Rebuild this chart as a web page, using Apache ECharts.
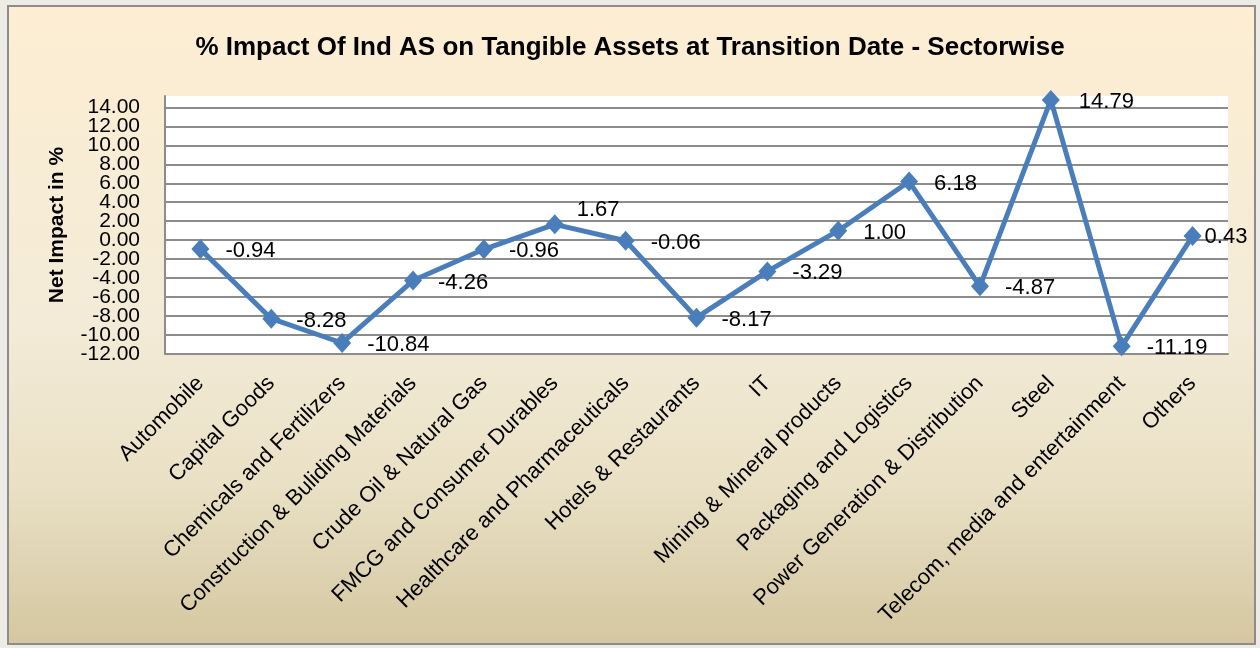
<!DOCTYPE html>
<html>
<head>
<meta charset="utf-8">
<script src="https://cdn.jsdelivr.net/npm/echarts@6/dist/echarts.min.js"></script>
<style>
  html, body { margin: 0; padding: 0; background: #ecebe5; }
  #chart { width: 1260px; height: 648px; }
</style>
</head>
<body>
<div id="chart"></div>
<script>
// sectors and net impact (%)
var sectors = ['Automobile', 'Capital Goods', 'Chemicals and Fertilizers', 'Construction & Buliding Materials',
  'Crude Oil & Natural Gas', 'FMCG and Consumer Durables', 'Healthcare and Pharmaceuticals',
  'Hotels & Restaurants', 'IT', 'Mining & Mineral products', 'Packaging and Logistics',
  'Power Generation & Distribution', 'Steel', 'Telecom, media and entertainment', 'Others'];
var impact = [-0.94, -8.28, -10.84, -4.26, -0.96, 1.67, -0.06, -8.17, -3.29, 1.00, 6.18, -4.87, 14.79, -11.19, 0.43];
var yMin = -12, yMax = 15.2, yStep = 2;

var FONT = 'Liberation Sans, Arial, sans-serif';

// a few labels sit a bit off in the original
var labelShift = { 5: [-3, -14], 12: [3, 2], 14: [-13, 1] };

var points = impact.map(function (v, i) {
  var p = { value: v };
  if (labelShift[i]) p.label = { offset: labelShift[i] };
  return p;
});

// grid lines: gray for every tick, none on the top edge
var gridColors = [];
for (var k = yMin; k <= 14; k += yStep) gridColors.push('#8c8c8c');
gridColors.push('rgba(0,0,0,0)');

// the tick labels overlap each other like in the original, so they are split
// over two axes (every other label) to keep echarts from dropping any
function tickLabel(even) {
  return function (v) {
    if (v > 14) return '';
    var n = Math.round((v - yMin) / yStep);
    return (n % 2 === 0) === even ? v.toFixed(2) : '';
  };
}
var tickLabelStyle = {
  margin: 25, showMaxLabel: false,
  fontFamily: FONT, fontSize: 21, color: '#000'
};

var myChart = echarts.init(document.getElementById('chart'));

option = {
  backgroundColor: '#ecebe5',
  animation: false,
  graphic: [{
    type: 'rect',
    z: -10,
    shape: { x: 8, y: 6, width: 1247, height: 638 },
    style: {
      fill: new echarts.graphic.LinearGradient(0, 0, 0, 1, [
        { offset: 0, color: '#fdeed3' },
        { offset: 0.5, color: '#f3ebd7' },
        { offset: 0.75, color: '#e9e0c5' },
        { offset: 1, color: '#d4c7a0' }
      ]),
      stroke: '#8c8c8c',
      lineWidth: 2
    }
  }],
  title: {
    text: '% Impact Of Ind AS on Tangible Assets at Transition Date - Sectorwise',
    left: 'center',
    top: 30,
    textStyle: { fontFamily: FONT, fontSize: 26, fontWeight: 'bold', color: '#000' }
  },
  grid: {
    left: 165, right: 32, top: 96, bottom: 294,
    show: true, backgroundColor: '#fff', borderWidth: 0
  },
  xAxis: {
    type: 'category',
    data: sectors,
    axisLine: { onZero: false, lineStyle: { color: '#8c8c8c', width: 2 } },
    axisTick: { show: false },
    axisLabel: {
      interval: 0, rotate: 45, margin: 26,
      fontFamily: FONT, fontSize: 22, color: '#000'
    }
  },
  yAxis: [{
    type: 'value',
    position: 'left',
    min: yMin, max: yMax, interval: yStep,
    name: 'Net Impact in %',
    nameLocation: 'middle',
    nameGap: 97,
    nameTextStyle: { fontFamily: FONT, fontSize: 21, fontWeight: 'bold', color: '#000' },
    axisLine: { show: true, lineStyle: { color: '#8c8c8c', width: 2 } },
    axisTick: { show: false },
    axisLabel: Object.assign({ showMinLabel: true, formatter: tickLabel(true) }, tickLabelStyle),
    splitLine: { show: true, lineStyle: { color: gridColors, width: 2 } }
  }, {
    type: 'value',
    position: 'left',
    offset: 0,
    min: yMin, max: yMax, interval: yStep,
    axisLine: { show: false },
    axisTick: { show: false },
    axisLabel: Object.assign({ formatter: tickLabel(false) }, tickLabelStyle),
    splitLine: { show: false }
  }],
  series: [{
    type: 'line',
    yAxisIndex: 0,
    data: points,
    clip: false,
    symbol: 'diamond',
    symbolSize: [18, 20],
    lineStyle: { color: '#4a7ebb', width: 5 },
    itemStyle: { color: '#4a7ebb' },
    label: {
      show: true,
      position: 'right',
      distance: 16,
      offset: [0, 2],
      fontFamily: FONT, fontSize: 22, color: '#000',
      formatter: function (p) { return p.value.toFixed(2); }
    }
  }]
};

myChart.setOption(option);
</script>
</body>
</html>
